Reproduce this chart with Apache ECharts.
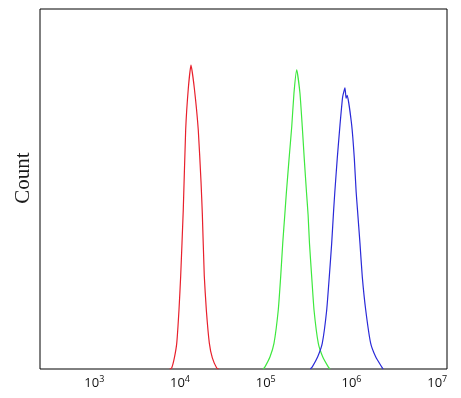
<!DOCTYPE html>
<html>
<head>
<meta charset="utf-8">
<script src="https://cdn.jsdelivr.net/npm/echarts@6/dist/echarts.min.js"></script>
<style>html,body{margin:0;padding:0;background:#fff}#c{width:461px;height:398px}</style>
</head>
<body>
<div id="c"></div>
<script>
// x values are log10(fluorescence intensity), y values are relative count
const tickValues = [3, 4, 5, 6, 7];
const tickBase = '10';
const redSeries = [[3.88,0],[3.903,0.3],[3.934,3.1],[3.962,7.2],[3.988,16.4],[4.008,25.9],[4.038,44.2],[4.066,66.4],[4.097,78],[4.128,84.4],[4.167,78],[4.213,66.4],[4.245,52],[4.260,43.3],[4.283,25.9],[4.307,16.4],[4.342,7.2],[4.377,3.1],[4.428,0.3],[4.45,0]];
const greenSeries = [[4.97,0],[4.991,0.6],[5.050,3.4],[5.096,7.1],[5.146,16.4],[5.174,25.6],[5.198,34.9],[5.222,42.8],[5.240,48.8],[5.271,58.1],[5.303,67.3],[5.329,76.6],[5.361,83.1],[5.399,76.6],[5.426,67.3],[5.450,58.1],[5.476,48.8],[5.494,42.8],[5.510,34.9],[5.536,25.6],[5.563,16.4],[5.613,7.1],[5.664,3.4],[5.729,0.6],[5.75,0]];
const blueSeries = [[5.52,0],[5.543,0.6],[5.606,3.4],[5.659,7.1],[5.711,16.4],[5.741,25.6],[5.769,34.9],[5.792,44.2],[5.806,49.3],[5.834,58.5],[5.866,67.8],[5.897,75.6],[5.924,78.1],[5.937,75.2],[5.950,76.0],[6.002,67.8],[6.033,58.5],[6.054,49.3],[6.070,44.2],[6.099,34.9],[6.126,25.6],[6.166,16.4],[6.224,7.1],[6.282,3.4],[6.352,0.6],[6.37,0]];
const yName = 'Count';

const chart = echarts.init(document.getElementById('c'), null, {renderer: 'canvas'});
const mk = (data, color) => ({
  type: 'line', data: data, showSymbol: false, smooth: 0.15,
  lineStyle: {color: color, width: 1.2}, itemStyle: {color: color}, animation: false
});
chart.setOption({
  animation: false,
  grid: {left: 40, right: 14, top: 9, bottom: 29, show: true, borderColor: '#000', borderWidth: 1, backgroundColor: '#fff'},
  xAxis: {
    type: 'value', min: 2.367, max: 7.114,
    axisLine: {show: false}, axisTick: {show: false}, splitLine: {show: false},
    axisLabel: {
      customValues: tickValues, margin: 6, color: '#111',
      formatter: v => '{b|' + tickBase + '}{s|' + Math.round(v) + '}',
      rich: {
        b: {fontSize: 13, fontFamily: 'Open Sans', color: '#111', lineHeight: 15, verticalAlign: 'bottom'},
        s: {fontSize: 9, fontFamily: 'Open Sans', color: '#111', lineHeight: 15, verticalAlign: 'top', padding: [0,0,5,0]}
      }
    }
  },
  yAxis: {
    type: 'value', min: 0, max: 100,
    axisLine: {show: false}, axisTick: {show: false}, splitLine: {show: false}, axisLabel: {show: false},
    name: yName, nameLocation: 'middle', nameGap: 6, nameRotate: 90,
    nameTextStyle: {fontFamily: 'Liberation Serif', fontSize: 21, color: '#1a1a1a', padding: [0, 0, 0, 22]}
  },
  series: [mk(redSeries, '#e8202c'), mk(greenSeries, '#3ee83e'), mk(blueSeries, '#2a2ad8')]
});
</script>
</body>
</html>
